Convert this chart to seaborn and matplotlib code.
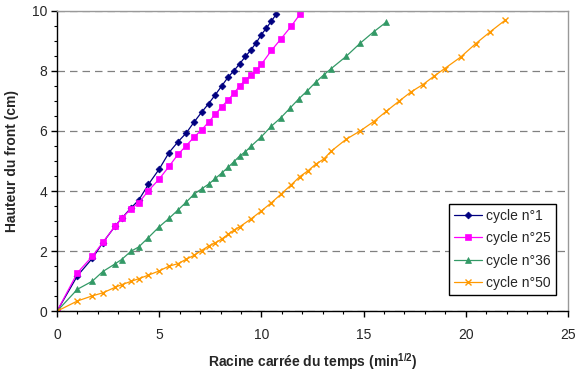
import numpy as np
import pandas as pd
import matplotlib
matplotlib.use("Agg")
import matplotlib.pyplot as plt
import seaborn as sns
from matplotlib.ticker import MultipleLocator

# Data (x = square root of time, y = front height in cm)
x_c1 = [0, 1, 1.73, 2.24, 2.83, 3.16, 3.61, 4, 4.47, 5, 5.48, 5.92, 6.32, 6.71,
        7.07, 7.42, 7.75, 8.06, 8.37, 8.66, 8.94, 9.22, 9.49, 9.75, 10, 10.25, 10.49, 10.72]
y_c1 = [0, 1.18, 1.76, 2.28, 2.82, 3.09, 3.43, 3.7, 4.22, 4.73, 5.28, 5.64, 5.93, 6.3,
        6.62, 6.91, 7.21, 7.5, 7.79, 8.01, 8.24, 8.48, 8.7, 8.94, 9.21, 9.43, 9.66, 9.88]

x_c25 = [0, 1, 1.73, 2.24, 2.83, 3.16, 3.61, 4, 4.47, 5, 5.48, 5.92, 6.32, 6.71, 7.07,
         7.42, 7.75, 8.06, 8.37, 8.66, 8.94, 9.22, 9.49, 9.75, 10, 10.49, 10.95, 11.45, 11.88]
y_c25 = [0, 1.28, 1.83, 2.29, 2.82, 3.09, 3.4, 3.61, 4.01, 4.4, 4.82, 5.22, 5.51, 5.8, 6.03,
         6.3, 6.56, 6.81, 7.03, 7.26, 7.5, 7.7, 7.86, 8.02, 8.22, 8.68, 9.06, 9.48, 9.88]

x_c36 = [0, 1, 1.73, 2.24, 2.83, 3.16, 3.61, 4, 4.47, 5, 5.48, 5.92, 6.32, 6.71, 7.07, 7.42,
         7.75, 8.06, 8.37, 8.66, 8.94, 9.22, 9.49, 10, 10.49, 10.95, 11.4, 11.83, 12.25, 12.65,
         13.04, 13.42, 14.14, 14.83, 15.49, 16.12]
y_c36 = [0, 0.73, 1.0, 1.32, 1.57, 1.72, 1.99, 2.14, 2.45, 2.81, 3.09, 3.37, 3.63, 3.9, 4.07, 4.23,
         4.42, 4.6, 4.79, 4.98, 5.17, 5.31, 5.49, 5.81, 6.16, 6.44, 6.76, 7.07, 7.34, 7.62,
         7.86, 8.08, 8.48, 8.92, 9.3, 9.63]

x_c50 = [0, 1, 1.73, 2.24, 2.83, 3.16, 3.61, 4, 4.47, 5, 5.48, 5.92, 6.32, 6.71, 7.07, 7.42,
         7.75, 8.06, 8.37, 8.66, 8.94, 9.49, 10, 10.49, 10.95, 11.45, 11.88, 12.29, 12.65, 13.04,
         13.42, 14.14, 14.83, 15.49, 16.12, 16.73, 17.32, 17.89, 18.44, 18.97, 19.75, 20.49,
         21.21, 21.91]
y_c50 = [0, 0.34, 0.51, 0.61, 0.79, 0.88, 0.99, 1.08, 1.2, 1.34, 1.5, 1.58, 1.73, 1.86, 2.02, 2.17,
         2.28, 2.4, 2.56, 2.7, 2.81, 3.07, 3.34, 3.61, 3.89, 4.2, 4.48, 4.68, 4.89, 5.06,
         5.33, 5.72, 6.0, 6.31, 6.66, 6.99, 7.3, 7.54, 7.82, 8.08, 8.46, 8.91,
         9.31, 9.68]

labels = ["cycle n°1", "cycle n°25", "cycle n°36", "cycle n°50"]
colors = ["#000080", "#FF00FF", "#339966", "#FF9900"]
markers = ["D", "s", "^", "x"]
msizes = [3.5, 4.5, 5, 5]

sns.set_style("ticks")
plt.rcParams["font.family"] = ["Liberation Sans", "DejaVu Sans"]
plt.rcParams["mathtext.fontset"] = "custom"
plt.rcParams["mathtext.bf"] = "Liberation Sans:bold"
plt.rcParams["mathtext.rm"] = "Liberation Sans"

fig = plt.figure(figsize=(5.76, 3.74), dpi=100)
ax = fig.add_axes([0.099, 0.168, 0.887, 0.803])

series = [(x_c1, y_c1), (x_c25, y_c25), (x_c36, y_c36), (x_c50, y_c50)]
for (xs, ys), lab, col, mk, ms in zip(series, labels, colors, markers, msizes):
    sns.lineplot(x=xs, y=ys, ax=ax, color=col, marker=mk, markersize=ms,
                 markeredgecolor=col, markeredgewidth=1 if mk == "x" else 0.5,
                 linewidth=0.9, label=lab, estimator=None, sort=False)

ax.set_xlim(0, 25)
ax.set_ylim(0, 10)
ax.xaxis.set_major_locator(MultipleLocator(5))
ax.xaxis.set_minor_locator(MultipleLocator(1))
ax.yaxis.set_major_locator(MultipleLocator(2))
ax.yaxis.set_minor_locator(MultipleLocator(0.5))
ax.tick_params(axis="both", which="major", length=4, width=1, labelsize=10, color="black", pad=3)
ax.tick_params(axis="both", which="minor", length=2.5, width=0.8, color="black")
ax.tick_params(axis="x", pad=8)

ax.yaxis.grid(True, which="major", linestyle=(0, (6, 4)), color="#808080", linewidth=0.9)
ax.set_axisbelow(True)
for side in ["left", "bottom"]:
    ax.spines[side].set_color("black")
    ax.spines[side].set_linewidth(1)
for side in ["top", "right"]:
    ax.spines[side].set_color("#999999")
    ax.spines[side].set_linewidth(1)

ax.set_xlabel("Racine carrée du temps (min$^{\\mathbf{1/2}}$)", fontsize=10,
              fontweight="bold", labelpad=7)
ax.set_ylabel("Hauteur du front (cm)", fontsize=10, fontweight="bold", labelpad=9)

leg = ax.legend(loc="lower right", bbox_to_anchor=(0.99, 0.03), fontsize=10,
                frameon=True, fancybox=False, edgecolor="black", framealpha=1,
                handlelength=2.0, borderpad=0.35, labelspacing=0.62, handletextpad=0.3)
leg.get_frame().set_linewidth(1)

fig.savefig("out.png", dpi=100)
